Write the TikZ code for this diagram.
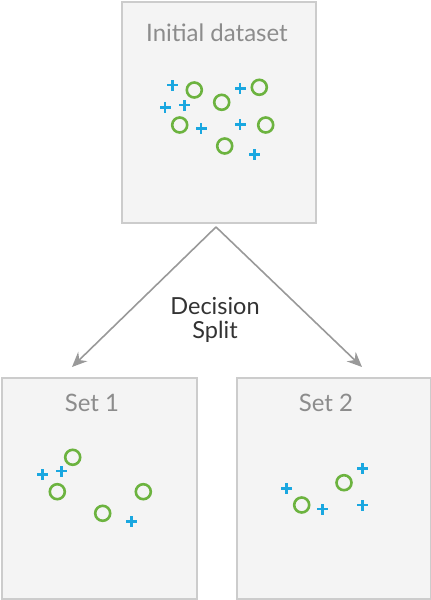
\documentclass[tikz,border=0pt]{standalone}
\usepackage{fontspec}
\setmainfont{Lato}
\usetikzlibrary{arrows.meta}
\definecolor{boxfill}{HTML}{F4F4F4}
\definecolor{boxline}{HTML}{CCCCCC}
\definecolor{titlegray}{HTML}{8C8C8C}
\definecolor{arrowgray}{HTML}{999999}
\definecolor{dotblue}{HTML}{1AA7E0}
\definecolor{ringgreen}{HTML}{6CB33F}
\definecolor{textdark}{HTML}{333333}
\tikzset{
  panel/.style={draw=boxline, fill=boxfill, line width=1.8pt, anchor=north west, inner sep=0pt},
  paneltitle/.style={text=titlegray, font=\fontsize{24}{28}\selectfont},
  ring/.style={draw=ringgreen, line width=2.6pt, circle, minimum size=15pt, inner sep=0pt},
  plusmark/.style={text=dotblue, inner sep=0pt, path picture={\fill[dotblue] ([xshift=-5.5pt,yshift=-1.4pt]path picture bounding box.center) rectangle ([xshift=5.5pt,yshift=1.4pt]path picture bounding box.center); \fill[dotblue] ([xshift=-1.4pt,yshift=-5.5pt]path picture bounding box.center) rectangle ([xshift=1.4pt,yshift=5.5pt]path picture bounding box.center);}, minimum size=12pt},
  splitarrow/.style={draw=arrowgray, line width=1.6pt, -{Stealth[length=15pt,width=13pt,inset=5pt]}},
}
\begin{document}
\begin{tikzpicture}[x=1pt,y=-1pt]
\useasboundingbox (0,0) rectangle (431,600);
% panels
\node[panel, minimum width=194pt, minimum height=221pt] (top) at (121,1) {};
\node[panel, minimum width=195pt, minimum height=221pt] (set1) at (1,377) {};
\node[panel, minimum width=194pt, minimum height=221pt] (set2) at (236,377) {};
% titles
\node[paneltitle] (ttop) at (217,33) {Initial dataset};
\node[paneltitle] (tset1) at (92,403) {Set 1};
\node[paneltitle] (tset2) at (326,403) {Set 2};
% top points
\node[plusmark] (p1) at (172.3,85) {};
\node[plusmark] (p2) at (165,107.3) {};
\node[plusmark] (p3) at (184.3,105) {};
\node[plusmark] (p4) at (201,128.3) {};
\node[plusmark] (p5) at (240,88.3) {};
\node[plusmark] (p6) at (240,124.3) {};
\node[plusmark] (p7) at (254.3,154.3) {};
\node[ring] (c1) at (194.3,90) {};
\node[ring] (c2) at (221.7,102.3) {};
\node[ring] (c3) at (259.3,87.3) {};
\node[ring] (c4) at (179.7,125) {};
\node[ring] (c5) at (265.7,125) {};
\node[ring] (c6) at (224.7,146) {};
% set 1 points
\node[ring] (a1) at (72.7,457.3) {};
\node[ring] (a2) at (57.3,491.7) {};
\node[ring] (a3) at (143.3,491.7) {};
\node[ring] (a4) at (102.7,513.3) {};
\node[plusmark] (ap1) at (42.3,474.3) {};
\node[plusmark] (ap2) at (61.7,471) {};
\node[plusmark] (ap3) at (131.7,521.7) {};
% set 2 points
\node[ring] (b1) at (344,482.7) {};
\node[ring] (b2) at (301.7,505) {};
\node[plusmark] (bp1) at (362.7,468.7) {};
\node[plusmark] (bp2) at (286.7,488.3) {};
\node[plusmark] (bp3) at (322.7,509) {};
\node[plusmark] (bp4) at (362.7,505) {};
% connectors
\coordinate (apex) at (216,227);
\coordinate (end1) at (72,367);
\coordinate (end2) at (362,367);
\draw[splitarrow, line join=round] (apex) -- (end1);
\draw[splitarrow, line join=round] (apex) -- (end2);
\node[text=textdark, align=center, font=\fontsize{23.5}{24}\selectfont] (label) at (215,320) {Decision\\Split};
\end{tikzpicture}
\end{document}
